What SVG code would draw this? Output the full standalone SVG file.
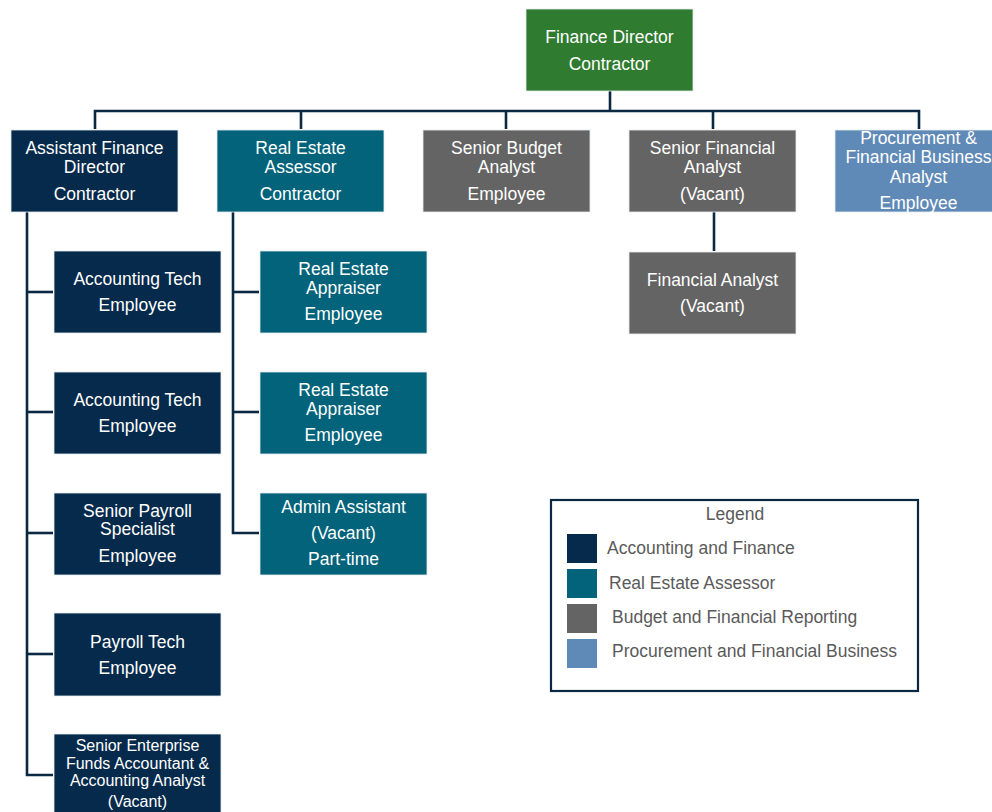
<svg xmlns="http://www.w3.org/2000/svg" width="992" height="812" viewBox="0 0 992 812">
  <style>
    .box { stroke: #e6ebf0; stroke-width: 0.8; }
    .navy { fill: #062a4b; }
    .teal { fill: #02637a; }
    .gray { fill: #646464; }
    .sky { fill: #5f8ab8; }
    .green { fill: #2f7b2f; }
    .lbl { font-family: "Liberation Sans", Arial, sans-serif; font-size: 17.5px; fill: #ffffff; text-anchor: middle; }
    .sm { font-size: 16px; }
    .lg { font-family: "Liberation Sans", Arial, sans-serif; font-size: 17.5px; fill: #5a5a5a; }
    .wire { fill: none; stroke: #0a2842; stroke-width: 2.6; }
  </style>
  <rect width="992" height="812" fill="#ffffff"/>

  <!-- reporting lines -->
  <g id="connectors" class="wire">
    <path d="M610 91 V111"/>
    <path d="M95 129 V111 H919 V129"/>
    <path d="M301 111 V129"/>
    <path d="M506 111 V129"/>
    <path d="M713 111 V129"/>
    <path d="M27 212 V775 H53"/>
    <path d="M27 292 H53"/>
    <path d="M27 412 H53"/>
    <path d="M27 533 H53"/>
    <path d="M27 654 H53"/>
    <path d="M233 212 V533 H259"/>
    <path d="M233 292 H259"/>
    <path d="M233 412 H259"/>
    <path d="M714 212 V251"/>
  </g>

  <!-- top -->
  <g id="finance-director">
    <rect class="box green" x="526" y="9" width="167" height="82"/>
    <text class="lbl" x="609.5" y="43">Finance Director</text>
    <text class="lbl" x="609.5" y="69.5">Contractor</text>
  </g>

  <!-- first tier -->
  <g id="assistant-finance-director">
    <rect class="box navy" x="11" y="130" width="167" height="82"/>
    <text class="lbl" x="94.5" y="154">Assistant Finance</text>
    <text class="lbl" x="94.5" y="173">Director</text>
    <text class="lbl" x="94.5" y="199.5">Contractor</text>
  </g>
  <g id="real-estate-assessor">
    <rect class="box teal" x="217" y="130" width="167" height="82"/>
    <text class="lbl" x="300.5" y="154">Real Estate</text>
    <text class="lbl" x="300.5" y="173">Assessor</text>
    <text class="lbl" x="300.5" y="199.5">Contractor</text>
  </g>
  <g id="senior-budget-analyst">
    <rect class="box gray" x="423" y="130" width="167" height="82"/>
    <text class="lbl" x="506.5" y="154">Senior Budget</text>
    <text class="lbl" x="506.5" y="173">Analyst</text>
    <text class="lbl" x="506.5" y="199.5">Employee</text>
  </g>
  <g id="senior-financial-analyst">
    <rect class="box gray" x="629" y="130" width="167" height="82"/>
    <text class="lbl" x="712.5" y="154">Senior Financial</text>
    <text class="lbl" x="712.5" y="173">Analyst</text>
    <text class="lbl" x="712.5" y="199.5">(Vacant)</text>
  </g>
  <g id="procurement-analyst">
    <rect class="box sky" x="835" y="130" width="167" height="82"/>
    <text class="lbl" x="918.5" y="144">Procurement &amp;</text>
    <text class="lbl" x="918.5" y="163">Financial Business</text>
    <text class="lbl" x="918.5" y="183">Analyst</text>
    <text class="lbl" x="918.5" y="209">Employee</text>
  </g>

  <!-- accounting and finance column -->
  <g id="accounting-tech-1">
    <rect class="box navy" x="54" y="251" width="167" height="82"/>
    <text class="lbl" x="137.5" y="284.5">Accounting Tech</text>
    <text class="lbl" x="137.5" y="311">Employee</text>
  </g>
  <g id="accounting-tech-2">
    <rect class="box navy" x="54" y="372" width="167" height="82"/>
    <text class="lbl" x="137.5" y="405.5">Accounting Tech</text>
    <text class="lbl" x="137.5" y="432">Employee</text>
  </g>
  <g id="senior-payroll-specialist">
    <rect class="box navy" x="54" y="493" width="167" height="82"/>
    <text class="lbl" x="137.5" y="516.5">Senior Payroll</text>
    <text class="lbl" x="137.5" y="535">Specialist</text>
    <text class="lbl" x="137.5" y="561.5">Employee</text>
  </g>
  <g id="payroll-tech">
    <rect class="box navy" x="54" y="613" width="167" height="83"/>
    <text class="lbl" x="137.5" y="647.5">Payroll Tech</text>
    <text class="lbl" x="137.5" y="674">Employee</text>
  </g>
  <g id="senior-enterprise-funds-accountant">
    <rect class="box navy" x="54" y="734" width="167" height="82"/>
    <text class="lbl sm" x="137.5" y="750.5">Senior Enterprise</text>
    <text class="lbl sm" x="137.5" y="768.5">Funds Accountant &amp;</text>
    <text class="lbl sm" x="137.5" y="786">Accounting Analyst</text>
    <text class="lbl sm" x="137.5" y="807">(Vacant)</text>
  </g>

  <!-- real estate column -->
  <g id="real-estate-appraiser-1">
    <rect class="box teal" x="260" y="251" width="167" height="82"/>
    <text class="lbl" x="343.5" y="274.5">Real Estate</text>
    <text class="lbl" x="343.5" y="293.5">Appraiser</text>
    <text class="lbl" x="343.5" y="320">Employee</text>
  </g>
  <g id="real-estate-appraiser-2">
    <rect class="box teal" x="260" y="372" width="167" height="82"/>
    <text class="lbl" x="343.5" y="395.5">Real Estate</text>
    <text class="lbl" x="343.5" y="414.5">Appraiser</text>
    <text class="lbl" x="343.5" y="441">Employee</text>
  </g>
  <g id="admin-assistant">
    <rect class="box teal" x="260" y="493" width="167" height="82"/>
    <text class="lbl" x="343.5" y="513">Admin Assistant</text>
    <text class="lbl" x="343.5" y="539">(Vacant)</text>
    <text class="lbl" x="343.5" y="565">Part-time</text>
  </g>

  <!-- budget column -->
  <g id="financial-analyst">
    <rect class="box gray" x="629" y="252" width="167" height="82"/>
    <text class="lbl" x="712.5" y="286">Financial Analyst</text>
    <text class="lbl" x="712.5" y="312">(Vacant)</text>
  </g>

  <!-- legend -->
  <g id="legend">
    <rect x="551" y="500" width="367" height="191" fill="#ffffff" stroke="#0a2842" stroke-width="2.2"/>
    <text class="lg" x="735" y="519.5" text-anchor="middle">Legend</text>
    <rect class="navy" x="567" y="534" width="30" height="29"/>
    <text class="lg" x="607" y="553.5">Accounting and Finance</text>
    <rect class="teal" x="567" y="569" width="30" height="29"/>
    <text class="lg" x="609" y="588.5">Real Estate Assessor</text>
    <rect class="gray" x="567" y="604" width="30" height="29"/>
    <text class="lg" x="612" y="623">Budget and Financial Reporting</text>
    <rect class="sky" x="567" y="639" width="30" height="29"/>
    <text class="lg" x="612" y="657">Procurement and Financial Business</text>
  </g>
</svg>
